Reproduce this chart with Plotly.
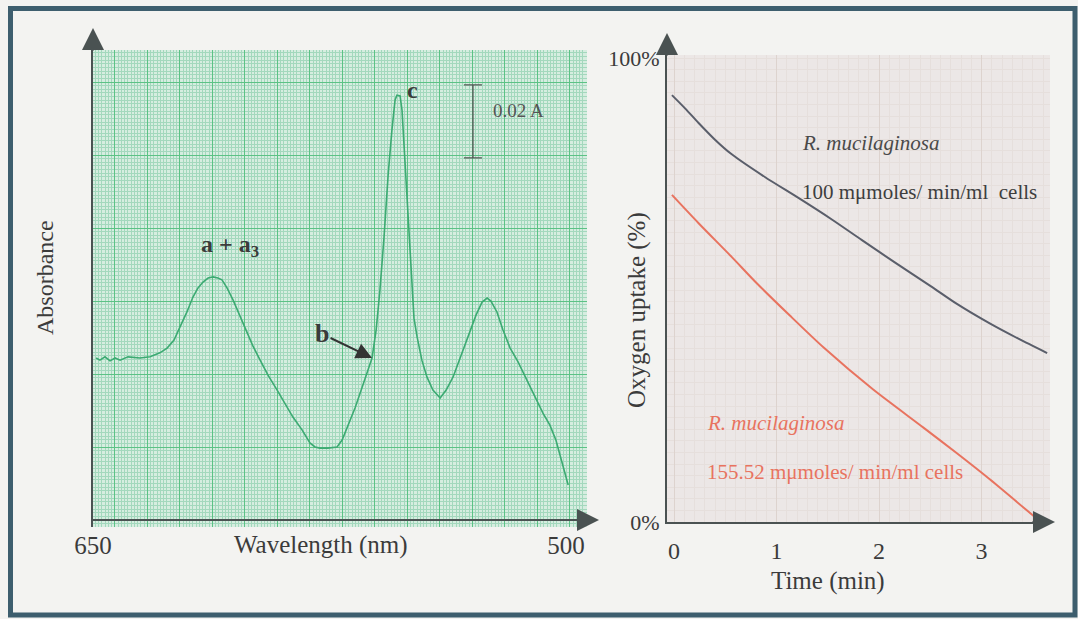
import plotly.graph_objects as go

W, H = 1078, 619

# ---------------- Left panel data: absorbance spectrum ----------------
wavelength_nm = [649.0, 647.8, 646.2, 644.6, 643.0, 641.4, 638.9, 635.1, 631.9, 628.8,
                 626.5, 624.3, 622.4, 620.2, 618.3, 616.7, 615.1, 613.5, 611.9, 610.4,
                 609.1, 607.5, 605.6, 603.4, 601.2, 599.3, 597.0, 594.5, 591.6, 589.1,
                 586.6, 583.7, 581.2, 579.6, 578.0, 575.5, 572.6, 571.0, 569.4, 566.9,
                 564.4, 561.5, 560.2, 559.0, 557.7, 556.4, 555.2, 554.2, 553.6, 552.6,
                 552.0, 551.0, 550.1, 549.1, 548.2, 547.2, 545.7, 544.1, 542.2, 539.9,
                 538.0, 535.8, 533.6, 532.0, 530.4, 528.5, 526.6, 525.0, 523.8, 521.9,
                 520.0, 517.7, 515.2, 512.4, 509.8, 507.3, 505.1, 503.2, 501.9, 500.6, 499.3]
absorbance_A = [0.0444, 0.0438, 0.0447, 0.0436, 0.0444, 0.0438, 0.0447, 0.0444, 0.0447, 0.0458,
                0.0471, 0.0493, 0.0529, 0.0570, 0.0611, 0.0636, 0.0652, 0.0663, 0.0666, 0.0663,
                0.0658, 0.0636, 0.0603, 0.0559, 0.0512, 0.0477, 0.0438, 0.0397, 0.0356, 0.0318,
                0.0282, 0.0247, 0.0211, 0.0200, 0.0197, 0.0197, 0.0200, 0.0219, 0.0252, 0.0307,
                0.0370, 0.0444, 0.0521, 0.0630, 0.0775, 0.0945, 0.1068, 0.1151, 0.1164, 0.1162,
                0.1123, 0.0973, 0.0808, 0.0658, 0.0553, 0.0501, 0.0438, 0.0392, 0.0356, 0.0334,
                0.0356, 0.0392, 0.0444, 0.0479, 0.0521, 0.0562, 0.0597, 0.0608, 0.0600, 0.0570,
                0.0521, 0.0471, 0.0433, 0.0384, 0.0340, 0.0293, 0.0260, 0.0219, 0.0178, 0.0137, 0.0096]
wl_tick_vals = [650, 500]
wl_tick_text = ["650", "500"]
scale_bar_nm = [529.5]
scale_bar_mid_A = [0.1092]
scale_bar_A = 0.02

# ---------------- Right panel data: oxygen uptake ----------------
time_gray = [-0.02, 0.11, 0.24, 0.40, 0.56, 0.89, 1.21, 1.54, 1.83, 2.15, 2.50, 2.76, 3.08, 3.36, 3.64]
pct_gray = [92.0, 89.1, 86.0, 82.4, 79.3, 74.3, 69.9, 65.2, 60.8, 56.0, 50.9, 47.0, 42.8, 39.5, 36.4]
time_red = [-0.02, 0.24, 0.56, 0.81, 1.13, 1.46, 1.94, 2.43, 2.76, 3.08, 3.54]
pct_red = [70.5, 64.4, 57.2, 51.4, 44.5, 37.6, 28.6, 20.4, 14.8, 9.2, 0.7]
time_ticks = [0, 1, 2, 3]
pct_tick_vals = [0, 100]
pct_tick_text = ["0%", "100%"]


def px(x):
    return x / W


def py(y):
    return 1 - y / H


SERIF = "Liberation Serif, Times New Roman, serif"
TXT = "#3b3b3b"
AX = "#4a5252"
GREEN = "#3caa72"
GRAY_LINE = "#5a5e6a"
RED = "#e8735f"

fig = go.Figure()

fig.add_trace(go.Scatter(x=wavelength_nm, y=absorbance_A, mode="lines",
                         line=dict(color=GREEN, width=1.6), xaxis="x", yaxis="y",
                         hoverinfo="skip", showlegend=False))
# scale bar 0.02 A drawn as an error bar
fig.add_trace(go.Scatter(x=scale_bar_nm, y=scale_bar_mid_A, mode="markers",
                         marker=dict(size=1, color="rgba(0,0,0,0)"),
                         error_y=dict(type="constant", value=scale_bar_A / 2, color="#555555",
                                      thickness=1.3, width=9),
                         xaxis="x3", yaxis="y", hoverinfo="skip", showlegend=False))

fig.add_trace(go.Scatter(x=time_gray, y=pct_gray, mode="lines",
                         line=dict(color=GRAY_LINE, width=2, shape="spline", smoothing=0.7),
                         xaxis="x2", yaxis="y2", hoverinfo="skip", showlegend=False))
fig.add_trace(go.Scatter(x=time_red, y=pct_red, mode="lines",
                         line=dict(color=RED, width=2, shape="spline", smoothing=0.7),
                         xaxis="x2", yaxis="y2", hoverinfo="skip", showlegend=False))

left_xrange = [650, 493.33]
left_yrange = [-0.00192, 0.12877]

layout = dict(
    width=W, height=H, margin=dict(l=0, r=0, t=0, b=0, pad=0, autoexpand=False),
    paper_bgcolor="#f3f3f1", plot_bgcolor="#d6ede0",
    font=dict(family=SERIF, color=TXT),
    xaxis=dict(domain=[px(93), px(587)], range=left_xrange, anchor="y", automargin=False,
               showgrid=True, gridcolor="#5cc285", gridwidth=1, tick0=643.09, dtick=10.31,
               showticklabels=False, ticks="", zeroline=False, showline=False,
               minor=dict(tick0=643.09, dtick=1.031, showgrid=True, gridcolor="#a3d8bd", gridwidth=1)),
    xaxis3=dict(overlaying="x", anchor="y", range=left_xrange, side="bottom", automargin=False,
                domain=[px(93), px(587)],
                tickmode="array", tickvals=wl_tick_vals, ticktext=wl_tick_text,
                showgrid=False, zeroline=False, showline=False, ticks="",
                tickfont=dict(size=25, color=TXT), ticklabelstandoff=1),
    yaxis=dict(domain=[py(527), py(50)], range=left_yrange, anchor="x", automargin=False,
               showgrid=True, gridcolor="#5cc285", gridwidth=1, tick0=0, dtick=0.02,
               minor=dict(tick0=0, dtick=0.001, showgrid=True, gridcolor="#a3d8bd", gridwidth=1),
               showticklabels=False, ticks="",
               zeroline=True, zerolinecolor=AX, zerolinewidth=2,
               showline=True, linecolor=AX, linewidth=2),
    xaxis2=dict(domain=[px(667), px(1050)], range=[-0.0683, 3.668], anchor="y2", automargin=False,
                tickmode="array", tickvals=time_ticks,
                showgrid=True, gridcolor="#ddd3ce", gridwidth=1,
                minor=dict(tickmode="linear", tick0=0, dtick=0.1, showgrid=True, gridcolor="#e6dfdc", gridwidth=1),
                showline=True, linecolor=AX, linewidth=2, ticks="", zeroline=False,
                tickfont=dict(size=24, color=TXT), ticklabelstandoff=6),
    yaxis2=dict(domain=[py(522), py(55)], range=[0, 100.65], anchor="x2", automargin=False,
                tickmode="array", tickvals=pct_tick_vals, ticktext=pct_tick_text,
                showgrid=False,
                minor=dict(tickmode="linear", tick0=0, dtick=2.5, showgrid=True, gridcolor="#e6dfdc", gridwidth=1),
                showline=True, linecolor=AX, linewidth=2, ticks="", zeroline=False,
                tickfont=dict(size=22, color=TXT), ticklabelstandoff=1),
)
fig.update_layout(**layout)

# right panel background
fig.add_shape(type="rect", xref="paper", yref="paper", x0=px(667), x1=px(1050), y0=py(522), y1=py(55),
              fillcolor="#ece7e6", line=dict(width=0), layer="below")

# outer frame
fig.add_shape(type="rect", xref="paper", yref="paper", x0=px(10.5), x1=px(1075), y0=py(615), y1=py(8.5),
              line=dict(color="#3d5e6e", width=5), fillcolor="rgba(0,0,0,0)")

ann = []


def arrowhead(x_tip, y_tip, dx, dy):
    ann.append(dict(xref="paper", yref="paper", x=px(x_tip), y=py(y_tip), ax=dx, ay=dy,
                    axref="pixel", ayref="pixel", text="", showarrow=True,
                    arrowhead=2, arrowsize=2.2, arrowwidth=2, arrowcolor=AX))


arrowhead(93, 28, 0, 24)       # left y axis
arrowhead(599, 520, -24, 0)    # left x axis
arrowhead(667, 33, 0, 24)      # right y axis
arrowhead(1055, 522, -24, 0)   # right x axis


def title(x, y, text, size, angle=0):
    ann.append(dict(xref="paper", yref="paper", x=px(x), y=py(y), text=text, textangle=angle,
                    xanchor="center", yanchor="middle", showarrow=False,
                    font=dict(size=size, color=TXT)))


title(321, 545, "Wavelength (nm)", 25)
title(45, 278, "Absorbance", 24, -90)
title(828, 581, "Time (min)", 25)
title(637, 310, "Oxygen uptake (%)", 25, -90)

# spectrum labels
ann.append(dict(xref="x", yref="y", x=606.5, y=0.0751, text="<b>a + a<sub>3</sub></b>",
                xanchor="center", yanchor="middle",
                showarrow=False, font=dict(size=24, color=TXT)))
ann.append(dict(xref="x", yref="y", x=548.8, y=0.1178, text="<b>c</b>",
                xanchor="center", yanchor="middle",
                showarrow=False, font=dict(size=24, color=TXT)))
ann.append(dict(xref="x", yref="y", x=561.5, y=0.0444, ax=-50, ay=-24, text="<b>b</b>",
                showarrow=True, arrowhead=2, arrowsize=1.6, arrowwidth=2, arrowcolor="#333333",
                font=dict(size=26, color=TXT)))
ann.append(dict(xref="x", yref="y", x=523.8, y=0.1123, text="0.02 A", xanchor="left", yanchor="middle",
                showarrow=False, font=dict(size=19, color="#555555")))

# oxygen uptake labels
for t, p, txt, col in [(1.23, 81.7, "<i>R. mucilaginosa</i>", "#4a4a4a"),
                       (1.23, 71.1, "100 mμmoles/ min/ml  cells", "#3e3e3e"),
                       (0.30, 21.3, "<i>R. mucilaginosa</i>", RED),
                       (0.30, 10.8, "155.52 mμmoles/ min/ml cells", RED)]:
    ann.append(dict(xref="x2", yref="y2", x=t, y=p, text=txt, xanchor="left", yanchor="middle",
                    showarrow=False, font=dict(size=21, color=col)))

fig.update_layout(annotations=ann)

fig.write_html("out.html", config={"displayModeBar": False},
               post_script="document.body.style.margin='0px';document.body.style.overflow='hidden';")
